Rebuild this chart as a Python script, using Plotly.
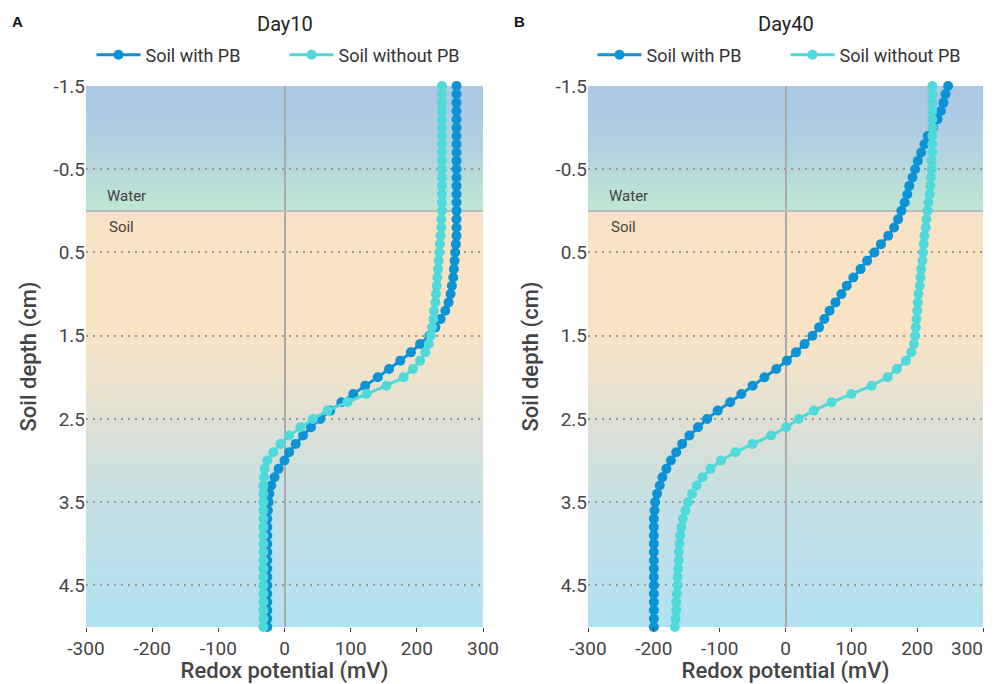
import base64
import plotly.graph_objects as go

# ---------------- data ----------------
depth = [-1.5, -1.4, -1.3, -1.2, -1.1, -1.0, -0.9, -0.8, -0.7, -0.6, -0.5, -0.4, -0.3, -0.2, -0.1,
         0.0, 0.1, 0.2, 0.3, 0.4, 0.5, 0.6, 0.7, 0.8, 0.9, 1.0, 1.1, 1.2, 1.3, 1.4, 1.5, 1.6,
         1.7, 1.8, 1.9, 2.0, 2.1, 2.2, 2.3, 2.4, 2.5, 2.6, 2.7, 2.8, 2.9, 3.0, 3.1, 3.2, 3.3,
         3.4, 3.5, 3.6, 3.7, 3.8, 3.9, 4.0, 4.1, 4.2, 4.3, 4.4, 4.5, 4.6, 4.7, 4.8, 4.9, 5.0]

day10_with_pb = [260, 260, 260, 260, 260, 260, 260, 260, 260, 260, 260, 260, 260, 260, 260,
                 260, 260, 260, 260, 259, 258, 257, 256, 255, 253, 251, 248, 243, 236, 228,
                 219, 205, 191, 175, 158, 141, 122, 104, 86, 69, 54, 40, 28, 17, 7, 0, -9,
                 -15, -20, -23, -24, -25, -26, -26, -26, -26, -26, -26, -26, -26, -26, -26,
                 -26, -26, -26, -26]
day10_without_pb = [238, 238, 238, 238, 238, 238, 238, 238, 238, 238, 238, 238, 238, 238, 238,
                    238, 237, 237, 236, 235, 234, 233, 232, 231, 230, 229, 228, 226, 225, 223,
                    221, 218, 213, 205, 194, 180, 154, 124, 95, 65, 43, 24, 7, -6, -17, -26,
                    -30, -31, -32, -32, -32, -32, -32, -32, -32, -32, -32, -32, -32, -32, -32,
                    -32, -32, -32, -32, -32]
day40_with_pb = [247, 243, 240, 236, 231, 224, 216, 211, 206, 201, 197, 193, 188, 185, 181,
                 176, 171, 165, 156, 145, 135, 124, 114, 103, 93, 85, 76, 67, 59, 51, 41, 29,
                 16, 2, -14, -32, -50, -67, -84, -103, -119, -133, -146, -157, -166, -174,
                 -181, -187, -191, -195, -198, -199, -200, -200, -200, -200, -200, -200, -200,
                 -200, -200, -200, -200, -200, -200, -200]
day40_without_pb = [223, 223, 223, 223, 223, 223, 223, 223, 223, 222, 222, 221, 220, 219, 217,
                    216, 214, 213, 211, 210, 209, 208, 206, 205, 204, 202, 201, 200, 199, 198,
                    197, 195, 191, 183, 169, 155, 131, 100, 70, 43, 20, 1, -22, -50, -76, -98,
                    -114, -126, -135, -142, -148, -152, -156, -158, -160, -161, -162, -162,
                    -163, -164, -164, -165, -166, -166, -167, -168]

panel_titles = ["Day10", "Day40"]
panel_letters = ["A", "B"]
series_names = ["Soil with PB", "Soil without PB"]
x_ticks = [-300, -200, -100, 0, 100, 200, 300]
x_tick_labels = ["-300", "-200", "-100", "0", "100", "200", "300"]
y_ticks = [-1.5, -0.5, 0.5, 1.5, 2.5, 3.5, 4.5]
y_tick_labels = ["-1.5", "-0.5", "0.5", "1.5", "2.5", "3.5", "4.5"]

# ---------------- style ----------------
DARK = "#0c93d5"
LIGHT = "#4fd9da"
FONT = "Roboto"
TXT = "#333333"
TICK_FONT = dict(family=FONT, size=19, color="#444")

# background gradient as an SVG image
stops = [
    (0.00, "#abc8e6"), (0.08, "#afcde3"), (0.15, "#b6d7dc"), (0.228, "#bfe7d4"),
    (0.232, "#f6e2ca"), (0.28, "#f9e3c4"), (0.45, "#f8e3c5"), (0.55, "#ece2cd"),
    (0.65, "#d9e0d7"), (0.77, "#c5e0e5"), (1.00, "#b2e1f2"),
]
stop_svg = "".join(f'<stop offset="{o}" stop-color="{c}"/>' for o, c in stops)
svg = ('<svg xmlns="http://www.w3.org/2000/svg" width="100" height="650" viewBox="0 0 100 650" '
       'preserveAspectRatio="none"><defs><linearGradient id="g" x1="0" y1="0" x2="0" y2="1">'
       f'{stop_svg}</linearGradient></defs><rect width="100" height="650" fill="url(#g)"/></svg>')
bg_src = "data:image/svg+xml;base64," + base64.b64encode(svg.encode()).decode()

# page body has an 8px margin: figure occupies screen pixels 8..996 x 8..684
OFF = 8
W, H = 996 - OFF, 684 - OFF


def px(sx):
    return (sx - OFF) / W


def py(sy):
    return 1 - (sy - OFF) / H


x_domains = [[px(86), px(483)], [px(588), px(983)]]
y_domain = [py(627), py(86)]

fig = go.Figure()
panels = [(day10_with_pb, day10_without_pb), (day40_with_pb, day40_without_pb)]
for i, (with_pb, without_pb) in enumerate(panels):
    xa = "x" if i == 0 else "x2"
    ya = "y" if i == 0 else "y2"
    lg = "legend" if i == 0 else "legend2"
    for vals, name, col in [(with_pb, series_names[0], DARK), (without_pb, series_names[1], LIGHT)]:
        fig.add_trace(go.Scatter(
            x=vals, y=depth, mode="lines+markers", name=name,
            line=dict(color=col, width=3), marker=dict(color=col, size=10),
            xaxis=xa, yaxis=ya, legend=lg, cliponaxis=False))

axis_common_x = dict(range=[-300, 300], tickvals=x_ticks,
                     ticks="outside", ticklen=4, automargin=False,
                     tickcolor="#444", tickwidth=1, showgrid=False, zeroline=True,
                     zerolinecolor="#aaaaaa", zerolinewidth=1.5, showline=False,
                     tickfont=TICK_FONT,
                     title=dict(text="Redox potential (mV)", standoff=3,
                                font=dict(family=FONT, size=22, color="#444", weight=500)))
axis_common_y = dict(range=[5.0, -1.5], tickvals=y_ticks, ticktext=y_tick_labels, ticks="",
                     showgrid=True, automargin=False,
                     gridcolor="#999999", griddash="2px,5px", gridwidth=1.5, zeroline=True,
                     zerolinecolor="#bbbbbb", zerolinewidth=1.5, showline=False,
                     tickfont=TICK_FONT,
                     title=dict(text="Soil depth (cm)", standoff=10,
                                font=dict(family=FONT, size=22, color="#444", weight=500)))

# the right-most label of the second panel is written as an annotation so it stays on the page
x_tick_labels_b = x_tick_labels[:-1] + [""]

legend_common = dict(orientation="h", xanchor="center", y=py(55), yanchor="middle",
                     font=dict(family=FONT, size=18, color=TXT), bgcolor="rgba(0,0,0,0)",
                     itemwidth=44, tracegroupgap=0, entrywidth=134, entrywidthmode="pixels")

fig.update_layout(
    width=W, height=H, margin=dict(l=0, r=0, t=0, b=0, autoexpand=False),
    paper_bgcolor="white", plot_bgcolor="#d0e4e8",
    xaxis=dict(domain=x_domains[0], anchor="y", ticktext=x_tick_labels, **axis_common_x),
    yaxis=dict(domain=y_domain, anchor="x", **axis_common_y),
    xaxis2=dict(domain=x_domains[1], anchor="y2", ticktext=x_tick_labels_b, **axis_common_x),
    yaxis2=dict(domain=y_domain, anchor="x2", **axis_common_y),
    legend=dict(x=sum(x_domains[0]) / 2, **legend_common),
    legend2=dict(x=sum(x_domains[1]) / 2, **legend_common),
    showlegend=True,
)

images = []
annotations = []
for i in range(2):
    xr = "x" if i == 0 else "x2"
    yr = "y" if i == 0 else "y2"
    images.append(dict(source=bg_src, xref=f"{xr} domain", yref=f"{yr} domain", x=0, y=1,
                       sizex=1, sizey=1, xanchor="left", yanchor="top", sizing="stretch",
                       layer="below"))
    annotations.append(dict(text=panel_titles[i], xref="paper", yref="paper",
                            x=sum(x_domains[i]) / 2, y=py(24), showarrow=False,
                            xanchor="center", yanchor="middle",
                            font=dict(family=FONT, size=20, color="#222")))
    annotations.append(dict(text=f"<b>{panel_letters[i]}</b>", xref="paper", yref="paper",
                            x=px(10 if i == 0 else 512), y=py(21), showarrow=False,
                            xanchor="left", yanchor="middle",
                            font=dict(family="Liberation Sans", size=15, color="#111")))
    annotations.append(dict(text="Water", xref=xr, yref=yr, x=-271, y=-0.18, showarrow=False,
                            xanchor="left", yanchor="middle",
                            font=dict(family=FONT, size=15, color="#444")))
    annotations.append(dict(text="Soil", xref=xr, yref=yr, x=-268, y=0.19, showarrow=False,
                            xanchor="left", yanchor="middle",
                            font=dict(family=FONT, size=15, color="#444")))

annotations.append(dict(text=x_tick_labels[-1], xref="x2", yref="paper", x=x_ticks[-1],
                        y=py(648), showarrow=False, xanchor="right", yanchor="middle",
                        xshift=2, font=TICK_FONT))

fig.update_layout(images=images, annotations=annotations)
fig.write_html("out.html")
